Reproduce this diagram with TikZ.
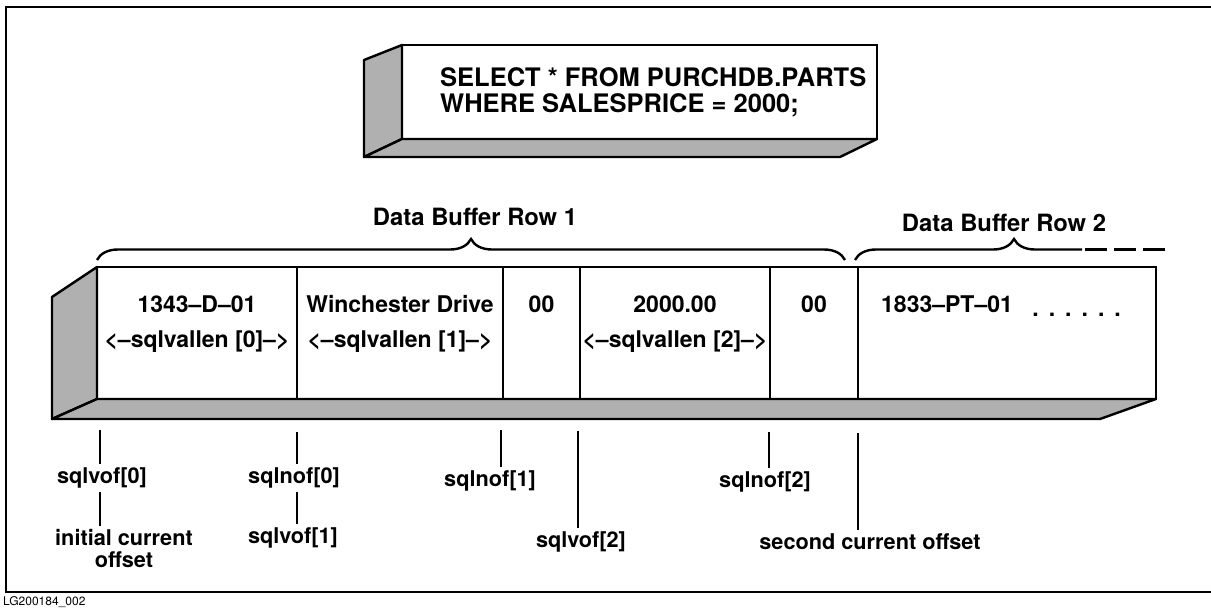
\documentclass[tikz,border=0pt]{standalone}
\usepackage{fontspec}
\setmainfont{TeX Gyre Heros}
\usepackage{tikz}
\usetikzlibrary{positioning,decorations.pathreplacing,calc}
\usepackage{xcolor}
\definecolor{dotgray}{RGB}{176,176,176}

\begin{document}
\begin{tikzpicture}[
  x=1pt,y=-1pt,
  face/.style={draw=black,line width=2.4pt,fill=white,outer sep=0pt,inner sep=0pt},
  sidefill/.style={draw=black,line width=2.4pt,fill=dotgray,line join=round},
  cell/.style={draw=black,line width=1.8pt,minimum height=132pt,outer sep=0pt,inner sep=0pt},
  celltext/.style={font=\fontsize{23}{26}\selectfont\bfseries,inner sep=0pt,anchor=base},
  rowlabel/.style={font=\fontsize{23.8}{27}\selectfont\bfseries,inner sep=0pt},
  offlabel/.style={font=\fontsize{21.7}{22}\selectfont\bfseries,inner sep=4pt,align=center},
  offtick/.style={line width=2pt},
  rowbrace/.style={decorate,decoration={brace,amplitude=21pt},line width=2.4pt}
]
\useasboundingbox (0,0) rectangle (1211,608);

% frame
\draw[line width=2pt] (1230,7) -- (6,7) -- (6,592) -- (1230,592);
\node[anchor=north west,inner sep=0pt,font=\fontsize{12}{12}\selectfont] (figid) at (3,596) {LG200184\_002};

% query box
\node[face,minimum width=475pt,minimum height=94pt] (query) at (639.5,92) {};
\filldraw[sidefill] (query.north west) -- ++(-38,15) -- ++(0,97) -- (query.south west) -- cycle;
\filldraw[sidefill] (query.south west) -- ++(-38,18) -- ($(query.south east)+(-37,18)$) -- (query.south east) -- cycle;
\node[anchor=west,align=left,inner sep=0pt,font=\fontsize{25.5}{26}\selectfont\bfseries] (sqltext)
  at ([xshift=38pt]query.west) {SELECT * FROM PURCHDB.PARTS\\WHERE SALESPRICE = 2000;};

% data buffer
\node[cell,minimum width=200pt,anchor=north west] (pnum) at (97,267) {};
\node[cell,minimum width=206pt,right=0pt of pnum] (pname) {};
\node[cell,minimum width=77pt,right=0pt of pname] (pnameind) {};
\node[cell,minimum width=190pt,right=0pt of pnameind] (price) {};
\node[cell,minimum width=88pt,right=0pt of price] (priceind) {};
\node[cell,minimum width=298pt,right=0pt of priceind] (nextrow) {};
\filldraw[sidefill] (pnum.north west) -- ++(-45,30) -- ++(0,122) -- (pnum.south west) -- cycle;
\filldraw[sidefill] (pnum.south west) -- ++(-45,20) -- ($(nextrow.south east)+(-56,20)$) -- (nextrow.south east) -- cycle;
\draw[line width=2.6pt] (pnum.north west) rectangle (nextrow.south east);

\node[celltext] (pnumval) at ([yshift=21pt]pnum.center) {1343--D--01};
\node[celltext] (pnumlen) at ([yshift=-14pt]pnum.center) {<--sqlvallen [0]-->};
\node[celltext] (pnameval) at ([yshift=21pt]pname.center) {Winchester Drive};
\node[celltext] (pnamelen) at ([yshift=-14pt]pname.center) {<--sqlvallen [1]-->};
\node[celltext] (pnameindval) at ([yshift=21pt]pnameind.center) {00};
\node[celltext] (priceval) at ([yshift=21pt]price.center) {2000.00};
\node[celltext] (pricelen) at ([yshift=-14pt]price.center) {<--sqlvallen [2]-->};
\node[celltext] (priceindval) at ([yshift=21pt]priceind.center) {00};
\node[celltext,anchor=base west] (nextval) at ([xshift=23pt,yshift=21pt]nextrow.west) {1833--PT--01};
\node[celltext,anchor=base east] (nextdots) at ([xshift=-35pt,yshift=17pt]nextrow.east)
  {.\hspace{10pt}.\hspace{10pt}.\hspace{10pt}.\hspace{10pt}.\hspace{10pt}.};

% row braces
\draw[rowbrace] ($(pnum.north west)+(0,-7)$) -- ($(priceind.north east)+(-13,-7)$);
\node[rowlabel] (row1) at (475,217) {Data Buffer Row 1};
\begin{scope}
  \clip (850,200) rectangle (1082,275);
  \draw[rowbrace] (855,260) -- (1173,260);
\end{scope}
\draw[line width=2.4pt,dash pattern=on 22pt off 7pt] (1085,249.5) -- (1167,249.5);
\node[rowlabel] (row2) at (1004,223) {Data Buffer Row 2};

% offsets
\coordinate (of0) at (100,430);
\coordinate (of1) at (297,432);
\coordinate (of2) at (501,430);
\coordinate (of3) at (578,431);
\coordinate (of4) at (769,432);
\coordinate (of5) at (858,433);
\node[offlabel] (vof0) at (102,478) {sqlvof[0]};
\node[offlabel] (initoff) at (124,549) {initial current\\offset};
\node[offlabel] (nof0) at (294,478) {sqlnof[0]};
\node[offlabel] (vof1) at (293,538) {sqlvof[1]};
\node[offlabel] (nof1) at (490,481) {sqlnof[1]};
\node[offlabel] (vof2) at (581,542) {sqlvof[2]};
\node[offlabel] (nof2) at (765,482) {sqlnof[2]};
\node[offlabel] (curoff) at (870,542) {second current offset};

\draw[offtick] (of0) -- (of0 |- vof0.north);
\draw[offtick] (vof0.south -| of0) -- (of0 |- initoff.north);
\draw[offtick] (of1) -- (of1 |- nof0.north);
\draw[offtick] (nof0.south -| of1) -- (of1 |- vof1.north);
\draw[offtick] (of2) -- (of2 |- nof1.north);
\draw[offtick] (of3) -- (of3 |- vof2.north);
\draw[offtick] (of4) -- (of4 |- nof2.north);
\draw[offtick] (of5) -- (of5 |- curoff.north);

\end{tikzpicture}
\end{document}
